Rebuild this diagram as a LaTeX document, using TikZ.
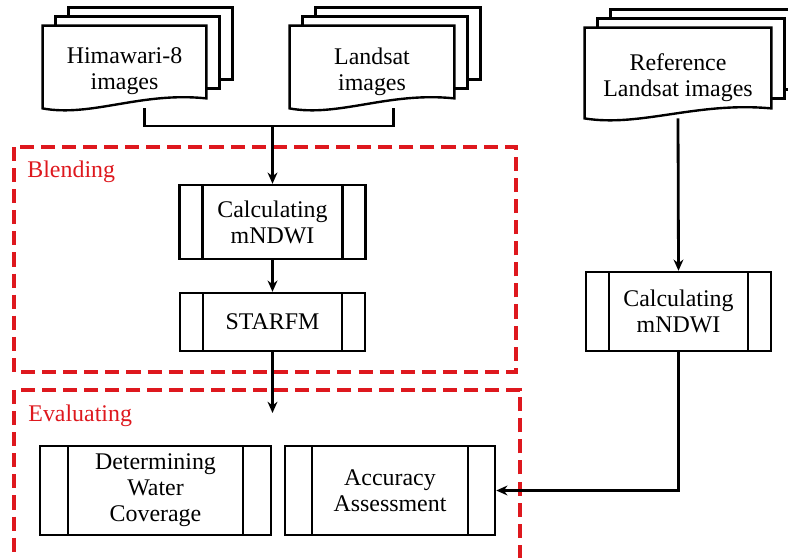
\documentclass[tikz,border=0pt]{standalone}
\usepackage{fontspec}
\setmainfont{Liberation Serif}
\usetikzlibrary{arrows.meta,calc,backgrounds}

\definecolor{grpred}{RGB}{222,24,30}

% three stacked sheets around a document node (sheet top sits 9px above the node)
\newcommand{\docstack}[1]{%
  \foreach \k in {2,1}
    \draw[sheet] ($(#1.north west)+(13*\k,-9*\k-9)$) rectangle ($(#1.south east)+(13*\k,-9*\k-11)$);
  \draw[sheet] ($(#1.north west)+(0,-9)$) -- ($(#1.north east)+(0,-9)$) -- ($(#1.south east)+(0,-10)$)
    .. controls ($(#1.south west)!0.6!(#1.south east)+(0,-17)$)
    and ($(#1.south west)!0.3!(#1.south east)+(0,9)$) .. (#1.south west) -- cycle;
}

\begin{document}
\begin{tikzpicture}[
    x = 0.025cm, y = -0.025cm, % pixel grid, y downwards
    > = {Stealth[length=8pt,width=7pt]}, % arrow head style
    line width = 2pt % line style
    ]

    \tikzset{
    txt/.style = {font=\fontsize{17}{18.5}\selectfont, align=center, inner sep=0pt},
    doc/.style = {txt},
    sheet/.style = {draw=black, line width=1.7pt, fill=white, line join=miter},
    link/.style = {draw=black, line width=2pt},
    proc/.style = {txt, draw=black, line width=1.7pt,
      path picture={
        \draw[line width=1.7pt] ([xshift=#1]path picture bounding box.north west) -- ([xshift=#1]path picture bounding box.south west);
        \draw[line width=1.7pt] ([xshift=-#1]path picture bounding box.north east) -- ([xshift=-#1]path picture bounding box.south east);
      }},
    proc/.default = 0.58cm,
    grp/.style = {draw=grpred, line width=2.4pt, dash pattern=on 10pt off 5pt},
    grplabel/.style = {txt, text=grpred, anchor=base west}
    }

    \useasboundingbox (0,0) rectangle (788,558);

    % input documents
    \node[doc, minimum width=4.025cm, minimum height=1.775cm] (hima) at (124.5,71.5) {Himawari-8\\images};
    \node[doc, minimum width=4.05cm, minimum height=1.775cm] (land) at (372,71.5) {Landsat\\images};
    \node[doc, minimum width=4.6cm, minimum height=1.975cm] (refl) at (678,77.5) {Reference\\Landsat images};
    \begin{scope}[on background layer]
      \docstack{hima}
      \docstack{land}
      \docstack{refl}
    \end{scope}

    % groups
    \draw[grp] (14,147) coordinate (blendNW) rectangle (516,372);
    \draw[grp] (14,390) coordinate (evalNW) rectangle (520,580);
    \node[grplabel] (blendlbl) at (26,177) {Blending};
    \node[grplabel] (evallbl) at (27,421) {Evaluating};

    % processes
    \node[proc, minimum width=4.65cm, minimum height=1.85cm] (calcA) at (272.5,222) {Calculating\\mNDWI};
    \node[proc, minimum width=4.625cm, minimum height=1.45cm] (starfm) at (272.5,322) {STARFM};
    \node[proc, minimum width=4.625cm, minimum height=1.975cm] (calcB) at (678.5,311.5) {Calculating\\mNDWI};
    \node[proc=0.7cm, minimum width=5.775cm, minimum height=2.225cm] (water) at (155.5,490.5) {Determining\\Water\\Coverage};
    \node[proc=0.67cm, minimum width=5.25cm, minimum height=2.225cm] (acc) at (390,490.5) {Accuracy\\Assessment};

    % connectors
    \coordinate (himaTap) at ($(hima.south west)!0.62!(hima.south east)$);
    \coordinate (landTap) at ($(land.south west)!0.63!(land.south east)$);
    \coordinate (hub) at (calcA.north |- 0,126);
    \coordinate (starEnd) at (starfm.south |- 0,413);
    \draw[link] (himaTap) |- (hub) -| (landTap);
    \path[->] (hub) edge[link] (calcA.north);
    \path[->] (calcA) edge[link] (starfm);
    \path[->] (starfm.south) edge[link] (starEnd);
    \path[->] (refl.south) edge[link] (calcB.north);
    \draw[link,->] (calcB.south) |- (acc.east);
\end{tikzpicture}
\end{document}
